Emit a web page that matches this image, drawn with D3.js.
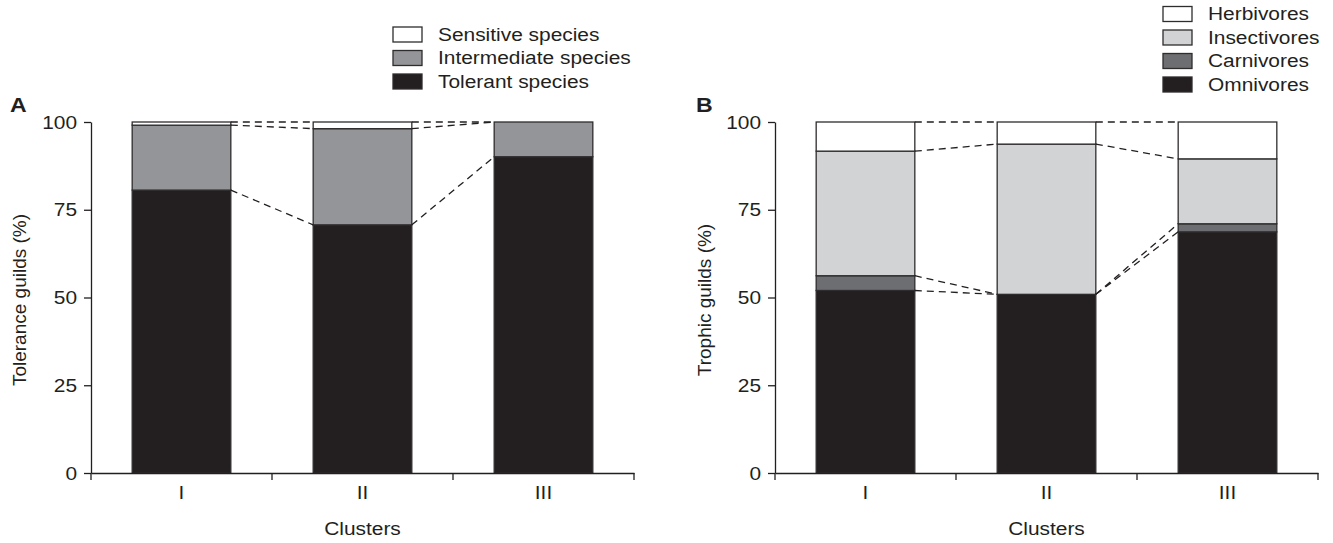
<!DOCTYPE html>
<html>
<head>
<meta charset="utf-8">
<script src="https://cdn.jsdelivr.net/npm/d3@7"></script>
<style>
  html, body { margin: 0; padding: 0; background: #fff; }
  svg { display: block; }
  text { font-family: "Liberation Sans", Arial, sans-serif; fill: #231f20; }
</style>
</head>
<body>
<svg id="chart" width="1333" height="543"></svg>
<script>
// Cluster categories and tick labels
const clusters = ["I", "II", "III"];
const yTicks = [0, 25, 50, 75, 100];

// Tolerance guilds (%) per cluster
const tolerant = [80.6, 70.7, 90.1];
const intermediate = [18.5, 27.4, 9.9];
const sensitive = [0.9, 1.9, 0.0];

// Trophic guilds (%) per cluster
const omnivores = [52.0, 50.9, 68.7];
const carnivores = [4.2, 0.0, 2.3];
const insectivores = [35.5, 42.8, 18.5];
const herbivores = [8.3, 6.3, 10.5];

const INK = "#231f20";
const SX = 1.1; // horizontal text widening

const svg = d3.select("#chart");
const y = d3.scaleLinear().domain([0, 100]).range([473, 122]);

function panel(opts) {
  const { x0, x1, letter, letterX, title, titleX, legendX, legendY0, series } = opts;
  const g = svg.append("g");
  const x = d3.scaleBand().domain(clusters).range([x0, x1]);
  const barW = x.bandwidth() * 0.545;
  const off = (x.bandwidth() - barW) / 2;

  // table for stacking, bottom layer first
  const rows = clusters.map((c, i) => {
    const r = { cluster: c };
    series.forEach(s => r[s.name] = s.values[i]);
    return r;
  });
  const stacked = d3.stack().keys(series.map(s => s.name))(rows);

  // stacked bars
  stacked.forEach((layer, li) => {
    g.append("g").selectAll("rect").data(layer).join("rect")
      .attr("x", d => x(d.data.cluster) + off)
      .attr("width", barW)
      .attr("y", d => y(d[1]))
      .attr("height", d => y(d[0]) - y(d[1]))
      .attr("fill", series[li].color)
      .attr("stroke", "#2e2c2d")
      .attr("stroke-width", 1.3);
  });

  // dashed connectors between the tops of each layer
  stacked.forEach(layer => {
    const segs = d3.pairs(layer);
    g.append("g").selectAll("line").data(segs).join("line")
      .attr("x1", d => x(d[0].data.cluster) + off + barW)
      .attr("y1", d => y(d[0][1]))
      .attr("x2", d => x(d[1].data.cluster) + off)
      .attr("y2", d => y(d[1][1]))
      .attr("stroke", INK)
      .attr("stroke-width", 1.3)
      .attr("stroke-dasharray", "7,5");
  });

  // y axis
  const ya = g.append("g").attr("transform", `translate(${x0},0)`)
    .call(d3.axisLeft(y).tickValues(yTicks).tickSize(7).tickSizeOuter(0).tickPadding(7));
  ya.select(".domain").attr("stroke", INK).attr("stroke-width", 1.3);
  ya.selectAll(".tick line").attr("stroke", INK).attr("stroke-width", 1.3);
  ya.selectAll(".tick text").attr("font-size", 19).attr("class", "sx").style("fill", INK);

  // x axis: labels at band centres, ticks at band boundaries
  const xa = g.append("g").attr("transform", `translate(0,${y(0)})`)
    .call(d3.axisBottom(x).tickSize(0).tickPadding(13));
  xa.select(".domain").attr("stroke", INK).attr("stroke-width", 1.3);
  xa.selectAll(".tick text").attr("font-size", 19).attr("class", "sx").style("fill", INK);
  const bounds = clusters.map(c => x(c)).concat([x.range()[1]]);
  g.append("g").selectAll("line").data(bounds).join("line")
    .attr("x1", d => d).attr("x2", d => d)
    .attr("y1", y(0)).attr("y2", y(0) + 7)
    .attr("stroke", INK).attr("stroke-width", 1.3);

  // axis titles
  g.append("text").attr("class", "sx")
    .attr("x", (x0 + x1) / 2).attr("y", 535)
    .attr("text-anchor", "middle").attr("font-size", 19)
    .text("Clusters");
  g.append("text")
    .attr("transform", `translate(${titleX},${300}) rotate(-90)`)
    .attr("text-anchor", "middle").attr("font-size", 19)
    .text(title);

  // panel letter
  g.append("text").attr("class", "sx")
    .attr("x", letterX).attr("y", 112)
    .attr("font-size", 21).attr("font-weight", "bold")
    .text(letter);

  // legend, top entry first
  const leg = series.slice().reverse();
  const lg = g.append("g");
  leg.forEach((s, i) => {
    const cy = legendY0 + i * 23.5;
    lg.append("rect")
      .attr("x", legendX).attr("y", cy - 7.5)
      .attr("width", 29).attr("height", 15)
      .attr("fill", s.color).attr("stroke", "#2e2c2d").attr("stroke-width", 1.3);
    lg.append("text").attr("class", "sx")
      .attr("x", legendX + 45).attr("y", cy + 6.5)
      .attr("font-size", 19)
      .text(s.name);
  });
}

panel({
  x0: 91, x1: 634, letter: "A", letterX: 10,
  title: "Tolerance guilds (%)", titleX: 26,
  legendX: 393, legendY0: 34.5,
  series: [
    { name: "Tolerant species", values: tolerant, color: "#231f20" },
    { name: "Intermediate species", values: intermediate, color: "#939598" },
    { name: "Sensitive species", values: sensitive, color: "#ffffff" }
  ]
});

panel({
  x0: 775, x1: 1318, letter: "B", letterX: 696,
  title: "Trophic guilds (%)", titleX: 711,
  legendX: 1163, legendY0: 14,
  series: [
    { name: "Omnivores", values: omnivores, color: "#231f20" },
    { name: "Carnivores", values: carnivores, color: "#6d6e71" },
    { name: "Insectivores", values: insectivores, color: "#d1d3d4" },
    { name: "Herbivores", values: herbivores, color: "#ffffff" }
  ]
});

// widen horizontal text about its anchor point
svg.selectAll("text.sx").each(function () {
  const t = d3.select(this);
  const ax = +(t.attr("x") || 0);
  t.attr("transform", `translate(${ax},0) scale(${SX},1) translate(${-ax},0)`);
});
</script>
</body>
</html>
